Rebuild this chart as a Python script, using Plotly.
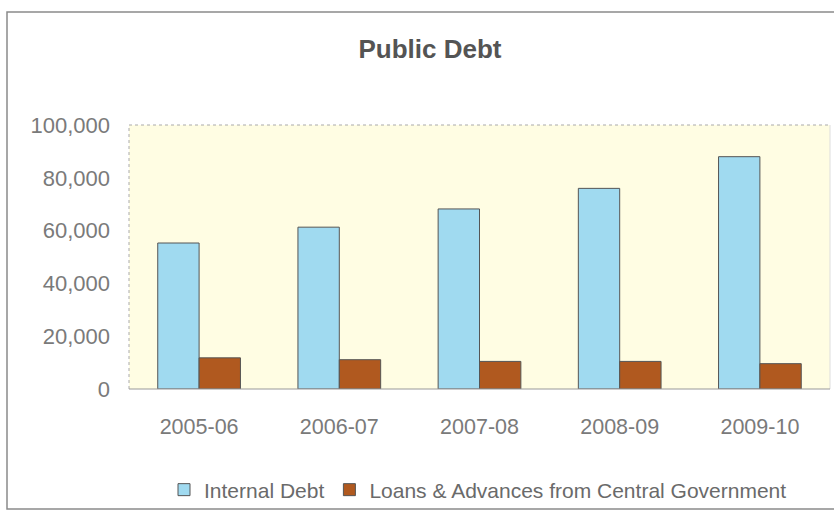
import plotly.graph_objects as go

years = ["2005-06", "2006-07", "2007-08", "2008-09", "2009-10"]
internal_debt = [55300, 61300, 68200, 76000, 88000]
central_loans = [11800, 11100, 10450, 10450, 9600]

W, H = 834, 512
L, R, T, B = 129, 4, 125, 123
pw, ph = W - L - R, H - T - B


def px_x(x):
    return (x - L) / pw


def px_y(y):
    return (H - B - y) / ph


font_family = "Liberation Sans, Arial, sans-serif"
grey = "#7a7a7a"

fig = go.Figure()
fig.add_trace(go.Bar(
    x=years, y=internal_debt, name="Internal Debt",
    marker=dict(color="#A0DAF0", line=dict(color="#555555", width=1)),
))
fig.add_trace(go.Bar(
    x=years, y=central_loans, name="Loans & Advances from Central Government",
    marker=dict(color="#B0591F", line=dict(color="#555555", width=1)),
))

shapes = [
    # outer chart frame
    dict(type="rect", xref="paper", yref="paper",
         x0=px_x(7), x1=px_x(W + 10), y0=px_y(509), y1=px_y(12),
         line=dict(color="#8a8a8a", width=1.5), layer="below"),
    # dotted top and left edges of the plot area
    dict(type="line", xref="paper", yref="paper", x0=0, x1=1, y0=1, y1=1,
         line=dict(color="#aaaaaa", width=1, dash="dot")),
    dict(type="line", xref="paper", yref="paper", x0=0, x1=0, y0=0, y1=1,
         line=dict(color="#aaaaaa", width=1, dash="dot")),
    dict(type="line", xref="paper", yref="paper", x0=1, x1=1, y0=0, y1=1,
         line=dict(color="#dddddd", width=1)),
    # baseline
    dict(type="line", xref="paper", yref="paper", x0=0, x1=1, y0=0, y1=0,
         line=dict(color="#999999", width=1.2)),
]

fig.update_layout(
    width=W, height=H,
    margin=dict(l=L, r=R, t=T, b=B, autoexpand=False),
    paper_bgcolor="white",
    plot_bgcolor="#FFFDE3",
    barmode="group",
    bargap=0.41,
    bargroupgap=0,
    title=dict(text="<b>Public Debt</b>", x=430 / W, xanchor="center",
               xref="container", y=1 - 49 / H, yanchor="middle",
               font=dict(family=font_family, size=26, color="#545454")),
    showlegend=True,
    legend=dict(orientation="h", x=px_x(478), xanchor="center",
                y=px_y(490), yanchor="middle",
                bgcolor="rgba(0,0,0,0)",
                font=dict(family=font_family, size=21, color="#6a6a6a"),
                itemwidth=30, tracegroupgap=0),
    shapes=shapes,
    font=dict(family=font_family, size=21, color=grey),
)
fig.update_xaxes(type="category", showgrid=False, showline=False, zeroline=False,
                 ticklabelstandoff=22,
                 tickfont=dict(family=font_family, size=21.5, color=grey))
fig.update_yaxes(range=[0, 100000], dtick=20000, tickformat=",",
                 showgrid=False, showline=False, zeroline=False,
                 ticklabelstandoff=18,
                 tickfont=dict(family=font_family, size=22, color=grey))

fig.write_html("out.html")
